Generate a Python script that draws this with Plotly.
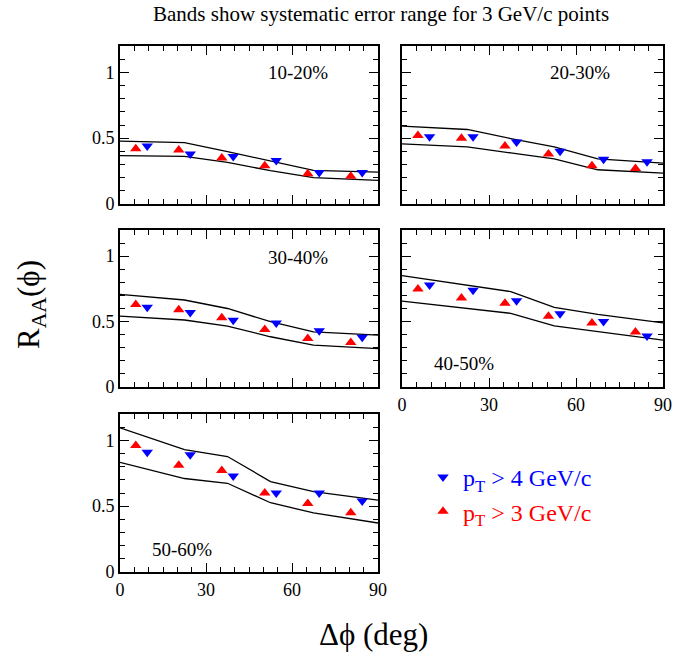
import plotly.graph_objects as go

# ---- data ----
x_red = [5.5, 20.5, 35.5, 50.5, 65.5, 80.5]     # pT > 3 GeV/c
x_blue = [9.5, 24.5, 39.5, 54.5, 69.5, 84.5]    # pT > 4 GeV/c
x_band = [0, 22.5, 37.5, 52.5, 67.5, 90]

centralities = ["10-20%", "20-30%", "30-40%", "40-50%", "50-60%"]

red_vals = {
    "10-20%": [0.42, 0.41, 0.35, 0.29, 0.23, 0.21],
    "20-30%": [0.52, 0.50, 0.44, 0.38, 0.29, 0.27],
    "30-40%": [0.63, 0.59, 0.53, 0.44, 0.37, 0.34],
    "40-50%": [0.75, 0.68, 0.64, 0.54, 0.49, 0.42],
    "50-60%": [0.96, 0.81, 0.77, 0.60, 0.52, 0.45],
}
blue_vals = {
    "10-20%": [0.44, 0.38, 0.36, 0.33, 0.24, 0.24],
    "20-30%": [0.51, 0.51, 0.47, 0.40, 0.34, 0.32],
    "30-40%": [0.61, 0.57, 0.51, 0.49, 0.43, 0.38],
    "40-50%": [0.78, 0.74, 0.66, 0.56, 0.50, 0.39],
    "50-60%": [0.91, 0.89, 0.73, 0.60, 0.60, 0.54],
}
band_hi = {
    "10-20%": [0.477, 0.466, 0.398, 0.329, 0.255, 0.242],
    "20-30%": [0.592, 0.566, 0.497, 0.434, 0.342, 0.311],
    "30-40%": [0.708, 0.665, 0.600, 0.499, 0.422, 0.396],
    "40-50%": [0.852, 0.780, 0.729, 0.609, 0.555, 0.490],
    "50-60%": [1.095, 0.930, 0.877, 0.687, 0.610, 0.546],
}
band_lo = {
    "10-20%": [0.367, 0.362, 0.316, 0.253, 0.200, 0.180],
    "20-30%": [0.457, 0.434, 0.388, 0.342, 0.260, 0.235],
    "30-40%": [0.542, 0.512, 0.465, 0.384, 0.320, 0.294],
    "40-50%": [0.657, 0.600, 0.563, 0.468, 0.425, 0.358],
    "50-60%": [0.833, 0.710, 0.674, 0.526, 0.449, 0.372],
}
label_pos = {
    "10-20%": (62, 1.0),
    "20-30%": (61.5, 1.0),
    "30-40%": (62, 0.99),
    "40-50%": (21.5, 0.18),
    "50-60%": (21.5, 0.17),
}

W, H = 696, 657
# panel pixel boxes: (x0, x1, ytop, ybottom)
boxes = [
    (120, 378, 46, 204),
    (402, 663, 46, 204),
    (120, 378, 230, 387),
    (402, 663, 230, 387),
    (120, 378, 414, 572),
]
show_xlabels = [False, False, False, True, True]
show_ylabels = [True, False, True, False, True]

SERIF = "Liberation Serif, Times New Roman, serif"
fig = go.Figure()
layout = dict(
    width=W, height=H, margin=dict(l=0, r=0, t=0, b=0, autoexpand=False),
    autosize=False,
    plot_bgcolor="white", paper_bgcolor="white",
    font=dict(family=SERIF, size=18, color="black"),
    showlegend=True,
)

for i, (cent, box) in enumerate(zip(centralities, boxes)):
    n = "" if i == 0 else str(i + 1)
    xa, ya = "x" + n, "y" + n
    x0, x1, yt, yb = box
    layout["xaxis" + n] = dict(
        domain=[x0 / W, x1 / W], anchor=ya, range=[0, 90], automargin=False,
        tickvals=[0, 30, 60, 90], showticklabels=show_xlabels[i],
        ticks="inside", ticklen=9, tickwidth=1.3, tickcolor="black",
        minor=dict(dtick=5, tick0=0, ticks="inside", ticklen=5, tickwidth=1.1, tickcolor="black"),
        showline=True, linecolor="black", linewidth=1.8, mirror="ticks",
        showgrid=False, zeroline=False, fixedrange=True,
        tickfont=dict(family=SERIF, size=18),
    )
    layout["yaxis" + n] = dict(
        domain=[1 - yb / H, 1 - yt / H], anchor=xa, range=[0, 1.2], automargin=False,
        tickvals=[0, 0.5, 1], ticktext=["0", "0.5", "1"], showticklabels=show_ylabels[i],
        ticks="inside", ticklen=9, tickwidth=1.3, tickcolor="black",
        minor=dict(dtick=0.1, tick0=0, ticks="inside", ticklen=5, tickwidth=1.1, tickcolor="black"),
        showline=True, linecolor="black", linewidth=1.8, mirror="ticks",
        showgrid=False, zeroline=False, fixedrange=True,
        tickfont=dict(family=SERIF, size=18),
    )
    for band in (band_hi, band_lo):
        fig.add_trace(go.Scatter(
            x=x_band, y=band[cent], mode="lines", xaxis=xa, yaxis=ya,
            line=dict(color="black", width=1.3), showlegend=False, hoverinfo="skip",
        ))
    fig.add_trace(go.Scatter(
        x=x_blue, y=blue_vals[cent], mode="markers", xaxis=xa, yaxis=ya,
        marker=dict(symbol="triangle-down", size=10, color="#0000ff"),
        name="<span style='color:#0000ff'>p<sub>T</sub> > 4 GeV/c</span>",
        legendrank=1, showlegend=(i == 0),
    ))
    fig.add_trace(go.Scatter(
        x=x_red, y=red_vals[cent], mode="markers", xaxis=xa, yaxis=ya,
        marker=dict(symbol="triangle-up", size=10, color="#ff0000"),
        name="<span style='color:#ff0000'>p<sub>T</sub> > 3 GeV/c</span>",
        legendrank=2, showlegend=(i == 0),
    ))
    lx, ly = label_pos[cent]
    fig.add_annotation(x=lx, y=ly, xref=xa, yref=ya, text=cent, showarrow=False,
                       xanchor="center", yanchor="middle",
                       font=dict(family=SERIF, size=19, color="black"))

layout["legend"] = dict(
    x=423 / W, y=1 - 455 / H, xanchor="left", yanchor="top",
    bgcolor="rgba(0,0,0,0)", font=dict(family=SERIF, size=24),
    itemwidth=30, tracegroupgap=0,
)
fig.update_layout(**layout)

fig.add_annotation(x=381 / W, y=1 - 14 / H, xref="paper", yref="paper",
                   xanchor="center", yanchor="middle",
                   text="Bands show systematic error range for 3 GeV/c points",
                   showarrow=False, font=dict(family=SERIF, size=21))
fig.add_annotation(x=373 / W, y=1 - 634 / H, xref="paper", yref="paper",
                   xanchor="center", yanchor="middle",
                   text="Δϕ (deg)", showarrow=False, font=dict(family=SERIF, size=31))
fig.add_annotation(x=31 / W, y=1 - 305 / H, xref="paper", yref="paper",
                   xanchor="center", yanchor="middle",
                   text="R<sub>AA</sub>(ϕ)", textangle=-90, showarrow=False,
                   font=dict(family=SERIF, size=31))

fig.write_html("out.html")
